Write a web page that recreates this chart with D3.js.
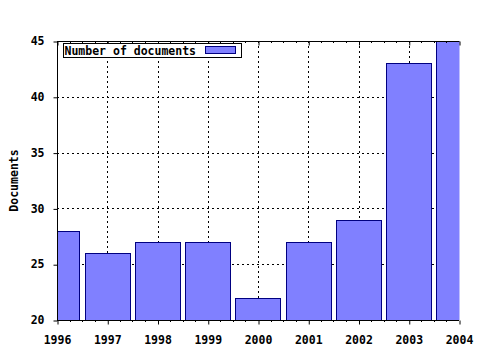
<!DOCTYPE html>
<html>
<head>
<meta charset="utf-8">
<script src="https://cdn.jsdelivr.net/npm/d3@7"></script>
<style>
  body { margin: 0; background: #fff; }
  text { font-family: "DejaVu Sans Mono", monospace; font-weight: bold; font-size: 11.5px; fill: #000; }
</style>
</head>
<body>
<div class="chart"></div>
<script>
const years = [1996, 1997, 1998, 1999, 2000, 2001, 2002, 2003, 2004]
const documents = [28, 26, 27, 27, 22, 27, 29, 43, 45]
const yTicks = [20, 25, 30, 35, 40, 45]
const seriesName = "Number of documents"

const margin = { top: 41, right: 21, bottom: 30, left: 57 }
const width = 480 - margin.left - margin.right
const height = 350 - margin.top - margin.bottom

const data = years.map((y, i) => ({ year: y, value: documents[i] }))

const svg = d3.select(".chart")
    .append("svg")
    .attr("width", 480)
    .attr("height", 350)
    .append("g")
    .attr("transform", `translate(${margin.left},${margin.top})`)

const x = d3.scaleLinear()
    .domain([years[0], years[years.length - 1]])
    .range([0, width])

const y = d3.scaleLinear()
    .domain([20, 45])
    .range([height, 0])

const step = x(years[1]) - x(years[0])
const barW = step * 0.9

svg.append("clipPath")
    .attr("id", "plot-clip")
    .append("rect")
    .attr("width", width + 0.5)
    .attr("height", height)

// grid
svg.selectAll("line.vgrid")
    .data(years.slice(1, -1))
    .enter().append("line")
    .attr("class", "vgrid")
    .attr("x1", d => Math.round(x(d)) + 0.5)
    .attr("x2", d => Math.round(x(d)) + 0.5)
    .attr("y1", 0)
    .attr("y2", height)
    .style("stroke", "#000")
    .style("stroke-dasharray", "2 3")

svg.selectAll("line.hgrid")
    .data(yTicks.slice(1, -1))
    .enter().append("line")
    .attr("class", "hgrid")
    .attr("x1", 0)
    .attr("x2", width)
    .attr("y1", d => Math.round(y(d)) + 0.5)
    .attr("y2", d => Math.round(y(d)) + 0.5)
    .style("stroke", "#000")
    .style("stroke-dasharray", "2 3")

// bars
svg.append("g")
    .attr("clip-path", "url(#plot-clip)")
    .selectAll("rect")
    .data(data)
    .enter().append("rect")
    .attr("x", d => Math.round(x(d.year) - barW / 2) + 0.5)
    .attr("y", d => Math.round(y(d.value)) + 0.5)
    .attr("width", Math.round(barW))
    .attr("height", d => Math.round(y(20) - y(d.value)))
    .style("fill", "#8080ff")
    .style("stroke", "#000080")
    .style("stroke-width", 1)

// minor ticks positions
const minor = []
for (let i = 0; i < years.length - 1; i++) {
    for (let k = 1; k < 4; k++) minor.push(years[i] + k / 4)
}

// bottom axis
const xAxis = d3.axisBottom(x)
    .tickValues(years)
    .tickFormat(d3.format("d"))
    .tickSize(4)
    .tickPadding(11)
svg.append("g")
    .attr("transform", `translate(0,${height + 0.5})`)
    .call(xAxis)
    .call(g => g.select(".domain").attr("d", `M0,0H${width}`))
    .call(g => g.selectAll(".tick line").attr("transform", "translate(0.5,0)"))

svg.selectAll("line.minor-b")
    .data(minor)
    .enter().append("line")
    .attr("class", "minor-b")
    .attr("x1", d => Math.round(x(d)) + 0.5)
    .attr("x2", d => Math.round(x(d)) + 0.5)
    .attr("y1", height)
    .attr("y2", height + 2)
    .style("stroke", "#000")

// top axis
const xTop = d3.axisTop(x)
    .tickValues(years)
    .tickSize(-4)
    .tickFormat("")
svg.append("g")
    .attr("transform", "translate(0,0.5)")
    .call(xTop)
    .call(g => g.select(".domain").attr("d", `M0,0H${width}`))
    .call(g => g.selectAll(".tick line").attr("transform", "translate(0.5,0)"))

svg.selectAll("line.minor-t")
    .data(minor)
    .enter().append("line")
    .attr("class", "minor-t")
    .attr("x1", d => Math.round(x(d)) + 0.5)
    .attr("x2", d => Math.round(x(d)) + 0.5)
    .attr("y1", 0)
    .attr("y2", 2)
    .style("stroke", "#000")

// left axis
const yAxis = d3.axisLeft(y)
    .tickValues(yTicks)
    .tickSize(4)
    .tickPadding(9)
svg.append("g")
    .attr("transform", "translate(0.5,0)")
    .call(yAxis)
    .call(g => g.select(".domain").attr("d", `M0,0V${height}`))
    .call(g => g.selectAll(".tick line").attr("transform", "translate(0,0.5)"))

svg.selectAll(".tick text").style("font-size", "11.5px")

// y label
svg.append("text")
    .attr("transform", `translate(${14 - margin.left},${height / 2}) rotate(-90)`)
    .attr("text-anchor", "middle")
    .attr("dy", "0.35em")
    .text("Documents")

// legend
const legend = svg.append("g")
    .attr("transform", "translate(6.5,2.5)")
legend.append("rect")
    .attr("width", 178)
    .attr("height", 14)
    .style("fill", "#fff")
    .style("stroke", "#000")
legend.append("text")
    .attr("x", 1)
    .attr("y", 11)
    .text(seriesName)
legend.append("rect")
    .attr("x", 142)
    .attr("y", 3)
    .attr("width", 30)
    .attr("height", 7)
    .style("fill", "#8080ff")
    .style("stroke", "#000080")
</script>
</body>
</html>
